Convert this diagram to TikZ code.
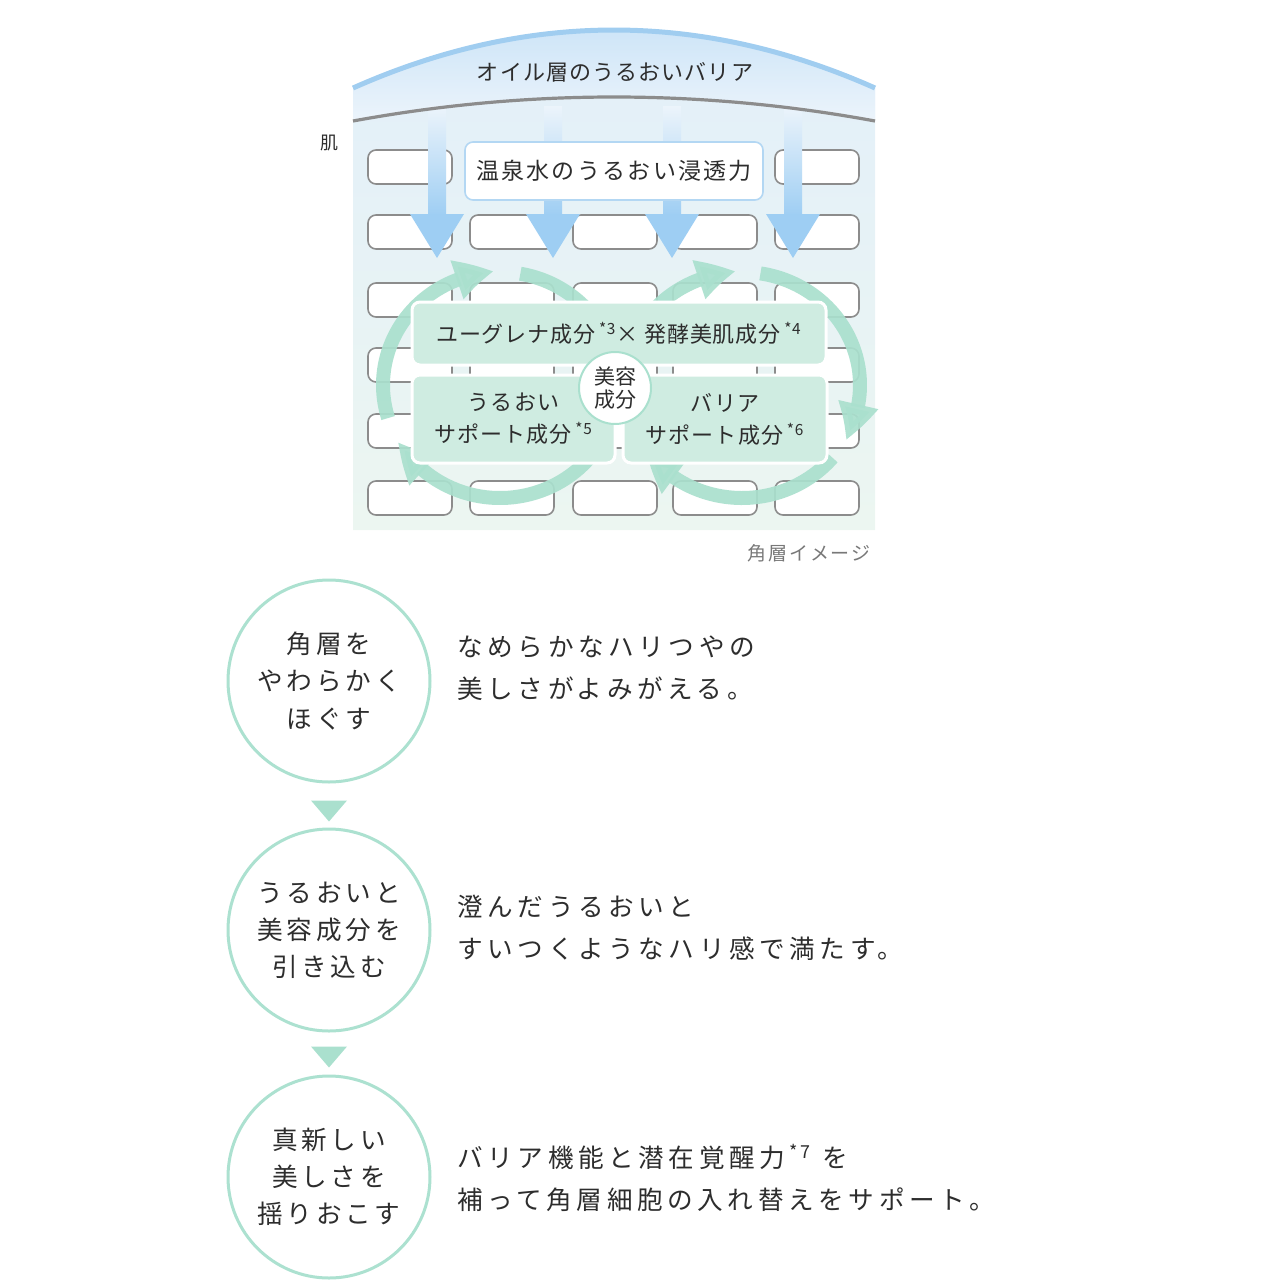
\documentclass[tikz,border=0pt]{standalone}
\usepackage{fontspec}
\setmainfont{Noto Sans CJK JP}
\newfontfamily\jpA[LetterSpace=5]{Noto Sans CJK JP}
\newfontfamily\jpB[LetterSpace=18]{Noto Sans CJK JP}
\newfontfamily\jpC[LetterSpace=15]{Noto Sans CJK JP}
\newfontfamily\jpD[LetterSpace=4]{Noto Sans CJK JP}
\newfontfamily\jpE[LetterSpace=10]{Noto Sans CJK JP}
\newfontfamily\jpF[LetterSpace=9]{Noto Sans CJK JP}
\usetikzlibrary{arrows.meta,bending,calc}
\definecolor{ink}{RGB}{45,45,45}
\definecolor{mint}{RGB}{170,224,206}
\definecolor{mintbox}{RGB}{207,236,225}
\definecolor{skyarrow}{RGB}{158,206,243}
\definecolor{skyline}{RGB}{160,205,240}
\definecolor{brickline}{RGB}{140,140,140}
\definecolor{panelTop}{RGB}{226,239,250}
\definecolor{panelBot}{RGB}{236,246,241}
\definecolor{bandTop}{RGB}{200,226,247}
\definecolor{bandBot}{RGB}{236,244,251}
\definecolor{ringline}{RGB}{172,225,208}
\definecolor{capgray}{RGB}{120,120,120}
\tikzset{
  brick/.style={draw=brickline, fill=white, line width=0.8pt, rounded corners=4pt},
  loopline/.style={draw=mint, line width=7pt, opacity=0.92, -{Triangle[width=19pt,length=19pt,bend]}},
  loopplain/.style={draw=mint, line width=7pt, opacity=0.92},
  mbox/.style={fill=mintbox, draw=white, line width=1.5pt, rounded corners=4pt, text=ink, align=center, inner sep=0pt},
  ring/.style={circle, draw=ringline, line width=1.5pt, fill=white, minimum size=101pt, inner sep=0pt, align=center, text=ink, font=\jpC\fontsize{12.8pt}{18.6pt}\selectfont},
  desc/.style={anchor=west, align=left, text=ink, inner sep=0pt, font=\jpB\fontsize{12.8pt}{21pt}\selectfont},
  downtri/.style={fill=mint}
}
\begin{document}
\begin{tikzpicture}[x=0.5pt,y=-0.5pt]
\useasboundingbox (0,0) rectangle (1280,1280);
% panel
\path[top color=panelTop, bottom color=panelBot]
  (353,88) .. controls (527,10.7) and (701,10.7) .. (875,88) -- (875,530) -- (353,530) -- cycle;
\path[top color=bandTop, bottom color=bandBot]
  (353,88) .. controls (527,10.7) and (701,10.7) .. (875,88) -- (875,121)
  .. controls (701,89) and (527,89) .. (353,121) -- cycle;
% bricks
\foreach \yy in {150,215,283,348,414,481} {
  \foreach \xx in {368,470,573,673,775} {
    \draw[brick] (\xx,\yy) rectangle ++(84,34);
  }
}
% blue arrows
\foreach \xx in {437,553,672,793} {
  \shade[top color=bandBot, bottom color=skyarrow] (\xx-9,106) rectangle (\xx+9,216);
  \fill[skyarrow] (\xx-27,214) -- (\xx+27,214) -- (\xx,258) -- cycle;
}
% top lines
\draw[skyline, line width=2.5pt] (353,88) .. controls (527,10.7) and (701,10.7) .. (875,88);
\draw[brickline, line width=1.6pt] (353,121) .. controls (527,89) and (701,89) .. (875,121);
\node[text=ink, font=\jpA\fontsize{11pt}{13pt}\selectfont] (oil) at (615,72) {オイル層のうるおいバリア};
\node[text=ink, font=\fontsize{9pt}{10pt}\selectfont] (hada) at (329,143) {肌};
\node[fill=white, draw=skyline!80, line width=0.8pt, rounded corners=4pt, minimum width=149pt, minimum height=29pt, text=ink, font=\jpE\fontsize{11.5pt}{13pt}\selectfont] (onsen) at (614,171) {温泉水のうるおい浸透力};
% green loops
\coordinate (cL) at (500,385);
\coordinate (cR) at (742,385);
\draw[loopline] (cL) ++(30:117 and 113) arc[start angle=30, end angle=150, x radius=117, y radius=113];
\draw[loopline] (cL) ++(163:117 and 113) arc[start angle=163, end angle=267, x radius=117, y radius=113];
\draw[loopplain] (cL) ++(280:117 and 113) arc[start angle=280, end angle=330, x radius=117, y radius=113];
\draw[loopline] (cR) ++(220:118 and 113) arc[start angle=220, end angle=267, x radius=118, y radius=113];
\draw[loopline] (cR) ++(279:118 and 113) arc[start angle=279, end angle=389, x radius=118, y radius=113];
\draw[loopline] (cR) ++(40:118 and 113) arc[start angle=40, end angle=144, x radius=118, y radius=113];
% mint boxes
\node[mbox, minimum width=207pt, minimum height=31.5pt, font=\jpD\fontsize{11pt}{13pt}\selectfont] (euglena) at (619,333.5)
  {ユーグレナ成分\,\textsuperscript{*3}× 発酵美肌成分\,\textsuperscript{*4}};
\node[mbox, minimum width=101.5pt, minimum height=44pt, font=\jpA\fontsize{11pt}{16pt}\selectfont] (moist) at (513.5,419)
  {うるおい\\サポート成分\,\textsuperscript{*5}};
\node[mbox, minimum width=102pt, minimum height=44pt, font=\jpA\fontsize{11pt}{16pt}\selectfont] (barrier) at (725,419)
  {バリア\\サポート成分\,\textsuperscript{*6}};
\node[circle, fill=white, draw=mint, line width=1pt, minimum size=36pt, inner sep=0pt, align=center, text=ink, font=\fontsize{10.5pt}{11.5pt}\selectfont] (core) at (615,388) {美容\\成分};
\node[text=capgray, font=\jpF\fontsize{9.5pt}{10pt}\selectfont] (cap) at (809,553) {角層イメージ};
% steps
\node[ring] (s1) at (329,681) {角層を\\やわらかく\\ほぐす};
\node[ring] (s2) at (329,930) {うるおいと\\美容成分を\\引き込む};
\node[ring] (s3) at (329,1177) {真新しい\\美しさを\\揺りおこす};
\fill[downtri] ($(s1.south)+(-18,17)$) -- ++(36,0) -- ++(-18,21) -- cycle;
\fill[downtri] ($(s2.south)+(-18,14)$) -- ++(36,0) -- ++(-18,21) -- cycle;
\node[desc] (d1) at (457,668.5) {なめらかなハリつやの\\美しさがよみがえる。};
\node[desc] (d2) at (457,927.5) {澄んだうるおいと\\すいつくようなハリ感で満たす。};
\node[desc] (d3) at (457,1178) {バリア機能と潜在覚醒力\,\textsuperscript{*7} を\\補って角層細胞の入れ替えをサポート。};
\end{tikzpicture}
\end{document}
